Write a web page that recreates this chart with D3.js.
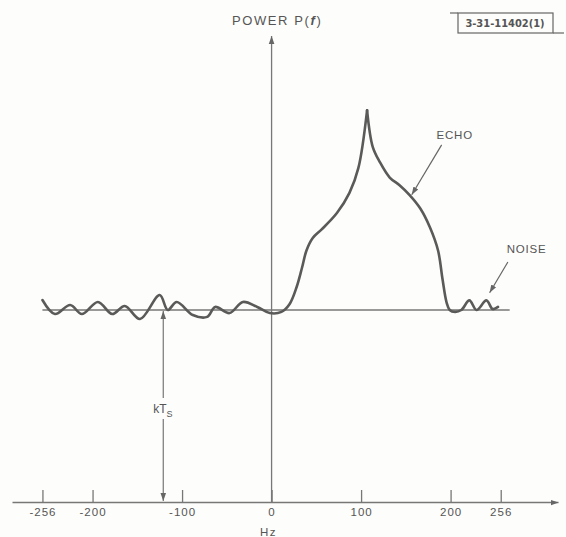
<!DOCTYPE html>
<html>
<head>
<meta charset="utf-8">
<script src="https://cdn.jsdelivr.net/npm/d3@7"></script>
<style>
  body { margin: 0; background: #fdfdfb; }
  svg { display: block; }
  text { font-family: "Liberation Sans", Arial, sans-serif; fill: #555; }
</style>
</head>
<body>
<div class="chart"></div>
<script>
const width = 566;
const height = 537;

// spectrum trace, frequency in Hz and power in units of kTs
const freqHz = [-256, -242, -225, -212, -194, -178, -164, -147, -125, -116, -106, -88, -72, -63, -47, -32, -16, -2,
  11, 20, 28, 34, 39, 46, 56, 73, 87, 97, 106.7,
  113, 121, 132, 143, 154, 166, 177, 186, 191, 195.5, 199, 205, 212, 221, 229, 240, 247, 253];
const power = [1.052, 0.979, 1.026, 0.979, 1.042, 0.979, 1.021, 0.953, 1.078, 1.0, 1.042, 0.974, 0.964, 1.016, 0.984, 1.042, 1.016, 0.984,
  0.99, 1.03, 1.12, 1.22, 1.31, 1.375, 1.42, 1.505, 1.61, 1.74, 2.04,
  1.85, 1.77, 1.69, 1.65, 1.60, 1.53, 1.43, 1.31, 1.16, 1.04, 1.0, 0.99, 1.0, 1.05, 1.0, 1.05, 1.005, 1.016];
const peakIndex = 28;

const tickHz = [-256, -200, -100, 0, 100, 200, 256];
const noiseLevel = 1;

const x = d3.scaleLinear().domain([-290, 320]).range([12, 558]);
const y = d3.scaleLinear().domain([0, 1]).range([502, 310]);

const svg = d3
  .select(".chart")
  .append("svg")
  .attr("width", width)
  .attr("height", height);

svg
  .append("defs")
  .append("marker")
  .attr("id", "head")
  .attr("viewBox", "0 0 10 10")
  .attr("refX", 10)
  .attr("refY", 5)
  .attr("markerWidth", 8)
  .attr("markerHeight", 8)
  .attr("markerUnits", "userSpaceOnUse")
  .attr("orient", "auto")
  .append("path")
  .attr("d", "M0,1.5 L10,5 L0,8.5 Z")
  .attr("fill", "#666");

const axisColor = "#777";

// frequency axis
const xAxis = svg
  .append("g")
  .attr("transform", `translate(0,${y(0)})`)
  .call(
    d3.axisBottom(x)
      .tickValues(tickHz)
      .tickSizeInner(-12)
      .tickSizeOuter(0)
      .tickPadding(6)
      .tickFormat((d) => (d < 0 ? "-" + Math.abs(d) : d))
  );
xAxis.select(".domain").attr("stroke", axisColor).attr("stroke-width", 1.3).attr("marker-end", "url(#head)");
xAxis.selectAll(".tick line").attr("stroke", axisColor).attr("stroke-width", 1.3);
xAxis
  .selectAll(".tick text")
  .attr("font-size", 11.5)
  .attr("letter-spacing", 1)
  .style("font-family", "Liberation Sans, Arial, sans-serif")
  .attr("fill", "#4f4f4f");

svg
  .append("text")
  .attr("x", x(0) - 3)
  .attr("y", 536)
  .attr("text-anchor", "middle")
  .attr("font-size", 11.5)
  .attr("letter-spacing", 1.5)
  .text("Hz");

// power axis
svg
  .append("line")
  .attr("x1", x(0))
  .attr("x2", x(0))
  .attr("y1", y(0))
  .attr("y2", 36)
  .attr("stroke", axisColor)
  .attr("stroke-width", 1.3)
  .attr("marker-end", "url(#head)");

svg
  .append("text")
  .attr("x", 232)
  .attr("y", 25)
  .attr("font-size", 13)
  .attr("letter-spacing", 1.6)
  .text("POWER P(")
  .append("tspan")
  .attr("font-style", "italic")
  .attr("font-weight", "bold")
  .text("f")
  .append("tspan")
  .attr("font-style", "normal")
  .attr("font-weight", "normal")
  .text(")");

// noise level line
svg
  .append("line")
  .attr("x1", x(-256))
  .attr("x2", x(266))
  .attr("y1", y(noiseLevel))
  .attr("y2", y(noiseLevel))
  .attr("stroke", axisColor)
  .attr("stroke-width", 1.3);

// kTs arrow
const kHz = -121;
svg
  .append("line")
  .attr("x1", x(kHz))
  .attr("x2", x(kHz))
  .attr("y1", 398)
  .attr("y2", y(noiseLevel) + 1)
  .attr("stroke", axisColor)
  .attr("stroke-width", 1.2)
  .attr("marker-end", "url(#head)");
svg
  .append("line")
  .attr("x1", x(kHz))
  .attr("x2", x(kHz))
  .attr("y1", 419)
  .attr("y2", y(0) - 1)
  .attr("stroke", axisColor)
  .attr("stroke-width", 1.2)
  .attr("marker-end", "url(#head)");
const kLabel = svg
  .append("text")
  .attr("x", x(kHz) - 10)
  .attr("y", 413)
  .attr("font-size", 12)
  .text("kT");
kLabel.append("tspan").attr("font-size", 9).attr("dy", 4).text("S");

// spectrum curve, split at the peak so the cusp stays sharp
const pts = freqHz.map((f, i) => [x(f), y(power[i])]);
const line = d3.line().curve(d3.curveCatmullRom.alpha(0.5));
[pts.slice(0, peakIndex + 1), pts.slice(peakIndex)].forEach((seg) => {
  svg
    .append("path")
    .attr("d", line(seg))
    .attr("fill", "none")
    .attr("stroke", "#5a5a58")
    .attr("stroke-width", 2.6)
    .attr("stroke-linejoin", "miter")
    .attr("stroke-linecap", "round");
});

// annotations
function drawLabel(text, labelHz, labelP, fromHz, fromP, toHz, toP) {
  svg
    .append("text")
    .attr("x", x(labelHz))
    .attr("y", y(labelP) + 4)
    .attr("text-anchor", "middle")
    .attr("font-size", 11.5)
    .attr("letter-spacing", 0.8)
    .text(text);
  svg
    .append("line")
    .attr("x1", x(fromHz))
    .attr("y1", y(fromP))
    .attr("x2", x(toHz))
    .attr("y2", y(toP))
    .attr("stroke", "#666")
    .attr("stroke-width", 1.2)
    .attr("marker-end", "url(#head)");
}
drawLabel("ECHO", 204.6, 1.91, 190, 1.86, 156.6, 1.6);
drawLabel("NOISE", 285, 1.32, 264, 1.25, 243.6, 1.09);

// figure id box
const idBox = svg.append("g");
idBox
  .append("rect")
  .attr("x", 458)
  .attr("y", 13)
  .attr("width", 95)
  .attr("height", 20)
  .attr("fill", "none")
  .attr("stroke", "#666")
  .attr("stroke-width", 1.2);
idBox.append("line").attr("x1", 450).attr("x2", 458).attr("y1", 13).attr("y2", 13).attr("stroke", "#666").attr("stroke-width", 1.2);
idBox.append("line").attr("x1", 553).attr("x2", 564).attr("y1", 33).attr("y2", 33).attr("stroke", "#666").attr("stroke-width", 1.2);
idBox
  .append("text")
  .attr("x", 505)
  .attr("y", 27)
  .attr("text-anchor", "middle")
  .attr("font-size", 11)
  .attr("font-weight", "bold")
  .style("font-family", "'Liberation Sans Narrow', 'DejaVu Sans Condensed', sans-serif")
  .text("3-31-11402(1)");
</script>
</body>
</html>
